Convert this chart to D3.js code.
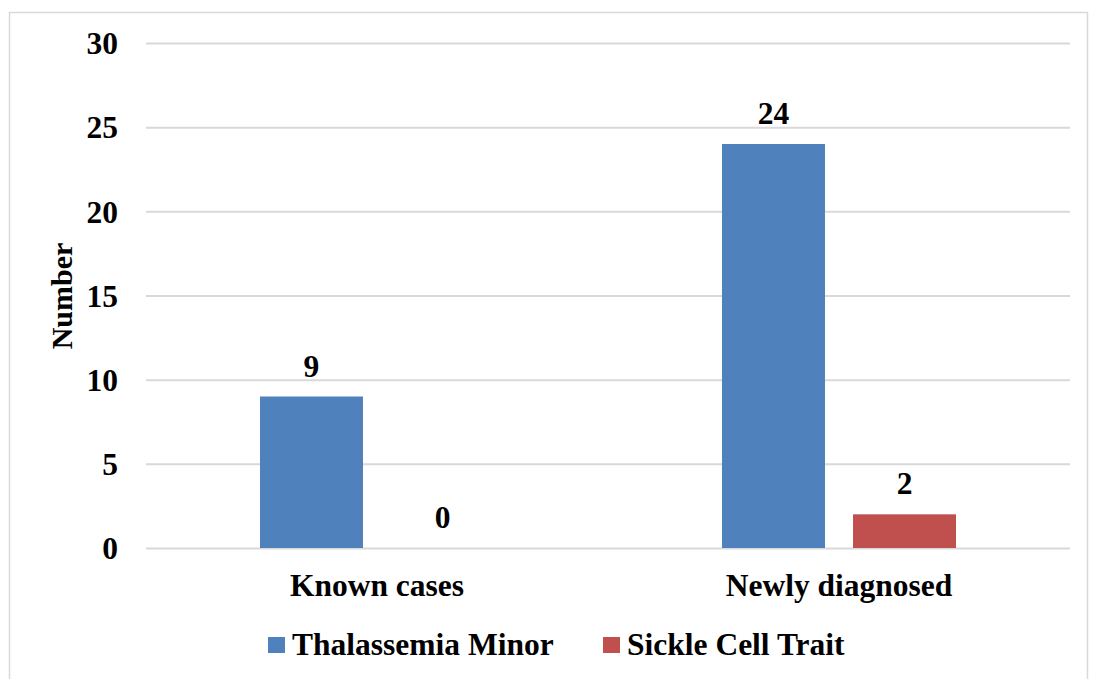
<!DOCTYPE html>
<html><head><meta charset="utf-8">
<script src="https://cdn.jsdelivr.net/npm/d3@7"></script>
<style>body{margin:0;background:#fff}</style>
</head><body><svg id="c" width="1094" height="679" font-family="Liberation Serif" font-weight="bold"></svg>
<script>
const categories = ["Known cases", "Newly diagnosed"];
const seriesNames = ["Thalassemia Minor", "Sickle Cell Trait"];
const thalassemiaMinor = [9, 24];
const sickleCellTrait = [0, 2];
const yTicks = [0, 5, 10, 15, 20, 25, 30];
const colors = ["#4F81BD", "#C0504D"];
const seriesValues = [thalassemiaMinor, sickleCellTrait];

(function () {
const FS = 31.5;
const svg = d3.select("#c");
svg.append("rect").attr("x", 9.5).attr("y", 12.5).attr("width", 1078).attr("height", 680)
  .attr("fill", "none").attr("stroke", "#d9d9d9").attr("stroke-width", 1.5);

const mLeft = 146, mRight = 1070, mTop = 43, mBottom = 548;
const x0 = d3.scaleBand().domain(categories).range([mLeft, mRight]).paddingInner(0).paddingOuter(0);
const x1 = d3.scaleBand().domain(seriesNames).range([0, x0.bandwidth()]).paddingInner(0.214).paddingOuter(0.87);
const y = d3.scaleLinear().domain([0, 30]).range([mBottom, mTop]);

const yAxis = d3.axisLeft(y).tickValues(yTicks).tickSize(-(mRight - mLeft)).tickPadding(28);
const gy = svg.append("g").attr("transform", `translate(${mLeft},0)`).call(yAxis);
gy.select(".domain").remove();
gy.selectAll(".tick line").attr("stroke", "#d9d9d9").attr("stroke-width", 2);
gy.selectAll(".tick text").attr("dy", "0.34em");

const groups = svg.append("g").selectAll("g").data(categories).join("g")
  .attr("transform", d => `translate(${x0(d)},0)`);
groups.selectAll("rect").data((c, i) => seriesNames.map((s, j) => ({s, j, v: seriesValues[j][i]})))
  .join("rect")
  .attr("x", d => x1(d.s)).attr("width", x1.bandwidth())
  .attr("y", d => y(d.v)).attr("height", d => y(0) - y(d.v))
  .attr("fill", d => colors[d.j]);
groups.selectAll("text.v").data((c, i) => seriesNames.map((s, j) => ({s, j, v: seriesValues[j][i]})))
  .join("text").attr("class", "v")
  .attr("x", d => x1(d.s) + x1.bandwidth() / 2).attr("y", d => y(d.v) - 20)
  .attr("text-anchor", "middle").text(d => d.v);

const xAxis = d3.axisBottom(x0).tickSize(0).tickPadding(26);
const gx = svg.append("g").attr("transform", `translate(0,${mBottom})`).call(xAxis);
gx.select(".domain").remove();

svg.append("text").attr("class", "ytitle").attr("transform", "translate(72,296) rotate(-90)")
  .attr("text-anchor", "middle").text("Number");

const legX = [268, 603];
const leg = svg.append("g").selectAll("g").data(seriesNames).join("g")
  .attr("transform", (d, i) => `translate(${legX[i]},637)`);
leg.append("rect").attr("width", 17).attr("height", 16).attr("fill", (d, i) => colors[i]);
leg.append("text").attr("x", 24).attr("y", 18).text(d => d);

svg.selectAll("g").attr("font-family", null).attr("font-size", null);
svg.selectAll("text")
  .attr("font-family", "Liberation Serif").attr("font-weight", "bold").attr("font-size", FS)
  .attr("fill", "#000");
svg.select(".ytitle").attr("font-size", 30);
})();
</script></body></html>
